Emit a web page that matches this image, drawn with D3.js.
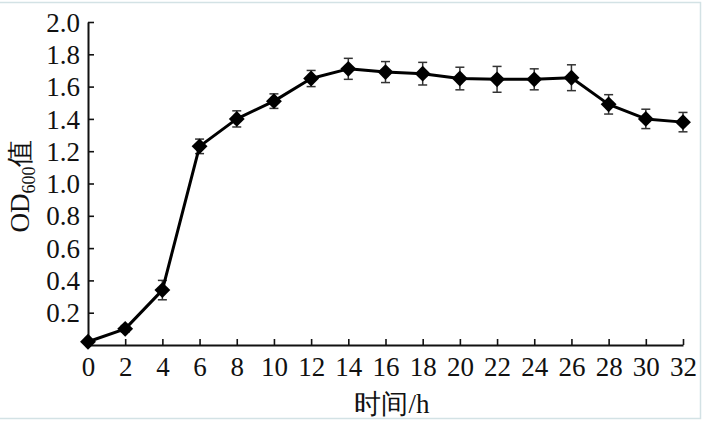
<!DOCTYPE html>
<html>
<head>
<meta charset="utf-8">
<script src="https://cdn.jsdelivr.net/npm/d3@7"></script>
<style>
  html, body { margin: 0; padding: 0; background: #fff; }
  svg { display: block; }
  text { font-family: "Liberation Serif", "Times New Roman", serif; fill: #111; }
</style>
</head>
<body>
<svg id="chart" width="705" height="428"></svg>
<script>
// time points (h), OD600 means and error (sd)
const hours = [0, 2, 4, 6, 8, 10, 12, 14, 16, 18, 20, 22, 24, 26, 28, 30, 32];
const od600 = [0.02, 0.10, 0.34, 1.23, 1.40, 1.51, 1.65, 1.71, 1.69, 1.68, 1.65, 1.645, 1.645, 1.655, 1.49, 1.40, 1.38];
const errs  = [0.01, 0.02, 0.06, 0.045, 0.05, 0.045, 0.05, 0.065, 0.065, 0.07, 0.07, 0.08, 0.065, 0.08, 0.06, 0.06, 0.06];
const xTicks = [0, 2, 4, 6, 8, 10, 12, 14, 16, 18, 20, 22, 24, 26, 28, 30, 32];
const yTicks = [0.2, 0.4, 0.6, 0.8, 1.0, 1.2, 1.4, 1.6, 1.8, 2.0];

const svg = d3.select("#chart");

// light frame round the figure
svg.append("path")
  .attr("d", "M0,2.5H700.5V418.5H0")
  .attr("fill", "none")
  .attr("stroke", "#d3e2e5")
  .attr("stroke-width", 1.5);

const x = d3.scaleLinear().domain([0, 32]).range([88, 683]);
const y = d3.scaleLinear().domain([0, 2]).range([345, 22]);

// x axis
const gx = svg.append("g")
  .attr("transform", `translate(0,${y(0)})`)
  .call(d3.axisBottom(x).tickValues(xTicks).tickFormat(d3.format("d"))
    .tickSizeInner(-6).tickSizeOuter(0).tickPadding(12));

// y axis
const gy = svg.append("g")
  .attr("transform", `translate(${x(0)},0)`)
  .call(d3.axisLeft(y).tickValues(yTicks).tickFormat(d3.format(".1f"))
    .tickSizeInner(-6).tickSizeOuter(0).tickPadding(8));

[gx, gy].forEach(g => {
  g.select(".domain").attr("stroke", "#111").attr("stroke-width", 2);
  g.selectAll(".tick line").attr("stroke", "#111").attr("stroke-width", 1.6);
  g.selectAll(".tick text")
    .style("font-family", '"Liberation Serif", "Times New Roman", serif')
    .style("font-size", "27px")
    .attr("fill", "#111");
});
gy.selectAll(".tick text").attr("dy", "0.34em");

const pts = hours.map((h, i) => ({ h, v: od600[i], e: errs[i] }));

// error bars
const eb = svg.append("g").attr("stroke", "#333").attr("stroke-width", 1.5);
pts.forEach(d => {
  eb.append("line")
    .attr("x1", x(d.h)).attr("x2", x(d.h))
    .attr("y1", y(d.v + d.e)).attr("y2", y(d.v - d.e));
  [d.v + d.e, d.v - d.e].forEach(v => {
    eb.append("line")
      .attr("x1", x(d.h) - 4.5).attr("x2", x(d.h) + 4.5)
      .attr("y1", y(v)).attr("y2", y(v));
  });
});

// line
svg.append("path")
  .datum(pts)
  .attr("fill", "none")
  .attr("stroke", "#000")
  .attr("stroke-width", 3)
  .attr("stroke-linejoin", "round")
  .attr("d", d3.line().x(d => x(d.h)).y(d => y(d.v)));

// diamond markers
svg.append("g").selectAll("path")
  .data(pts)
  .join("path")
  .attr("transform", d => `translate(${x(d.h)},${y(d.v)})`)
  .attr("d", d3.symbol().type(d3.symbolDiamond2).size(160))
  .attr("fill", "#000");

// axis titles
svg.append("text")
  .attr("x", 392)
  .attr("y", 413)
  .attr("text-anchor", "middle")
  .style("font-size", "27px")
  .text("时间/h");

const yl = svg.append("text")
  .attr("transform", "translate(29,186) rotate(-90)")
  .attr("text-anchor", "middle")
  .style("font-size", "27px");
yl.append("tspan").text("OD");
yl.append("tspan").attr("dy", 6).style("font-size", "18px").text("600");
yl.append("tspan").attr("dy", -6).text("值");
</script>
</body>
</html>
